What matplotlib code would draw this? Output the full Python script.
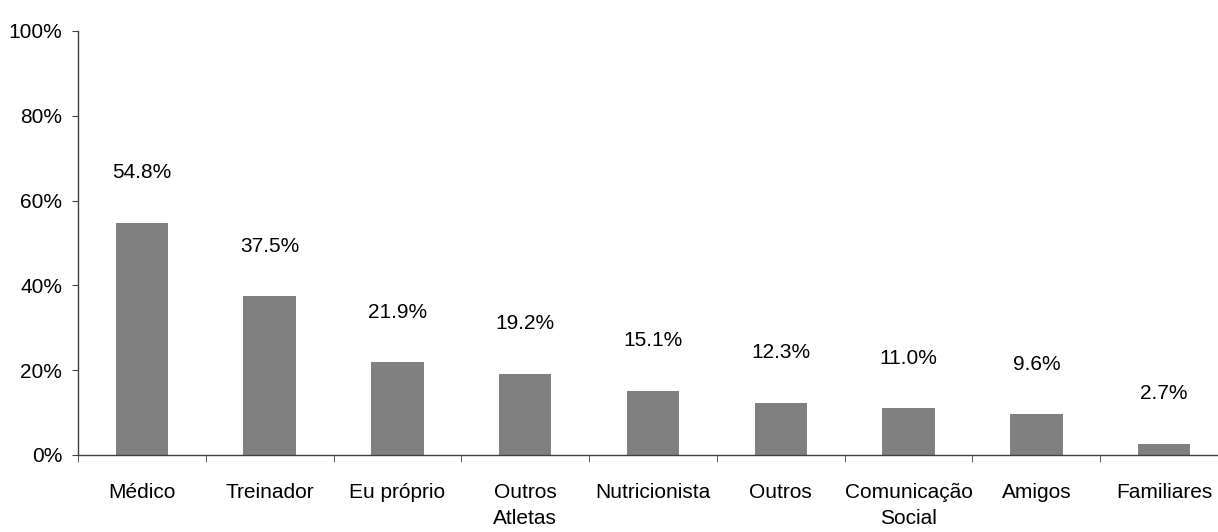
import numpy as np
import matplotlib.pyplot as plt
from matplotlib.ticker import FuncFormatter

plt.rcParams['font.family'] = ['Liberation Sans', 'DejaVu Sans']

categories = ['Médico', 'Treinador', 'Eu próprio', 'Outros\nAtletas', 'Nutricionista',
              'Outros', 'Comunicação\nSocial', 'Amigos', 'Familiares']
values = [54.8, 37.5, 21.9, 19.2, 15.1, 12.3, 11.0, 9.6, 2.7]

fig = plt.figure(figsize=(12.18, 5.32), dpi=100)
ax = fig.add_axes([78 / 1218, 1 - 455 / 532, 1150 / 1218, 424 / 532])

x = np.arange(len(categories))
ax.bar(x, values, width=0.41, color='#808080')

for xi, v in zip(x, values):
    ax.annotate(f'{v:.1f}%', (xi, v), xytext=(0, 36), textcoords='offset points',
                ha='center', va='center', fontsize=15)

ax.set_xlim(-0.5, len(categories) - 0.5)
ax.set_ylim(0, 100)
ax.set_yticks(np.arange(0, 101, 20))
ax.yaxis.set_major_formatter(FuncFormatter(lambda v, p: f'{v:.0f}%'))

ax.set_xticks(x)
ax.set_xticklabels(categories, linespacing=1.45)
ax.set_xticks(np.arange(-0.5, len(categories) - 0.5), minor=True)
ax.tick_params(axis='x', which='major', length=0, pad=20, labelsize=15)
ax.tick_params(axis='x', which='minor', length=5, direction='out', color='#404040')
ax.tick_params(axis='y', length=4.5, direction='out', labelsize=15, pad=7, color='#404040')

for s in ['top', 'right']:
    ax.spines[s].set_visible(False)
for s in ['left', 'bottom']:
    ax.spines[s].set_color('#404040')
    ax.spines[s].set_linewidth(1.0)

fig.savefig('out.png', dpi=100)
